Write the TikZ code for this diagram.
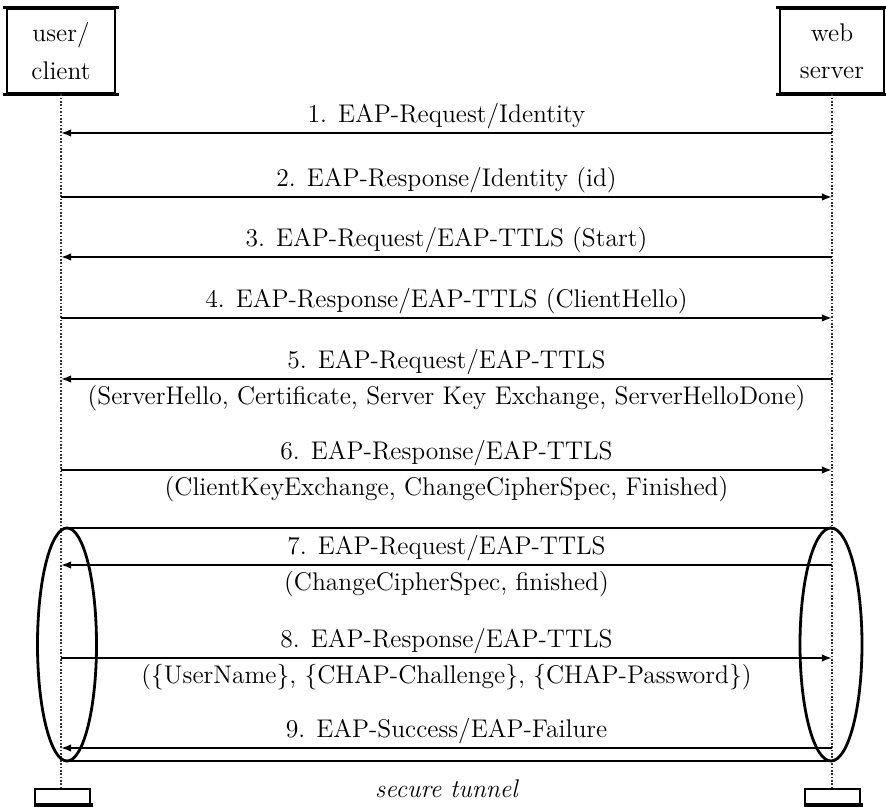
\documentclass[tikz,border=0pt]{standalone}
\usepackage{tikz}
\usetikzlibrary{arrows.meta}

\begin{document}
\begin{tikzpicture}[
        x=0.01569cm, y=-0.01569cm,
        every node/.style={font=\fontsize{11.4}{13.6}\selectfont},
        actor/.style={rectangle, draw, line width=1.2pt, minimum width=#1, minimum height=37.5pt, align=center, inner sep=0pt},
        endbox/.style={rectangle, draw, line width=1pt, minimum width=24.5pt, minimum height=6.7pt, inner sep=0pt},
        lifeline/.style={line width=1.1pt, black!80, dash pattern=on 0.75pt off 0.75pt},
        msg/.style={-{Latex[length=4.5pt,width=3.4pt]}, line width=0.85pt},
        upper/.style={above, inner sep=1.2pt},
        lower/.style={below, inner sep=2.4pt},
        tunnel/.style={line width=1.25pt}
    ]
    \useasboundingbox (0,0) rectangle (886,807);
%
    % actors
    \node[actor=48.2pt] (client) at (61,51) {user/\\[3pt]client};
    \node[actor=46.4pt] (server) at (832,51) {web\\[3pt]server};
    \draw[line width=1.6pt] ([xshift=-1pt]client.north west) -- ([xshift=1pt]client.north east);
    \draw[line width=1.6pt] ([xshift=-1pt]client.south west) -- ([xshift=1pt]client.south east);
    \draw[line width=1.6pt] ([xshift=-1pt]server.north west) -- ([xshift=1pt]server.north east);
    \draw[line width=1.6pt] ([xshift=-1pt]server.south west) -- ([xshift=1pt]server.south east);
%
    \node[endbox] (clientend) at (62.5,796.5) {};
    \node[endbox] (serverend) at (832.5,796.5) {};
    \draw[line width=1.6pt] (clientend.south west) -- ([xshift=1pt]clientend.south east);
    \draw[line width=1.6pt] (serverend.south west) -- ([xshift=1pt]serverend.south east);
%
    \draw[lifeline] (client.south) -- (client.south |- clientend.north);
    \draw[lifeline] (server.south) -- (server.south |- serverend.north);
%
    % points on the lifelines
    \coordinate (c1) at (61,133);  \coordinate (s1) at (832,133);
    \coordinate (c2) at (61,197);  \coordinate (s2) at (832,197);
    \coordinate (c3) at (61,257);  \coordinate (s3) at (832,257);
    \coordinate (c4) at (61,318);  \coordinate (s4) at (832,318);
    \coordinate (c5) at (61,379);  \coordinate (s5) at (832,379);
    \coordinate (c6) at (61,470);  \coordinate (s6) at (832,470);
    \coordinate (c7) at (61,565);  \coordinate (s7) at (832,565);
    \coordinate (c8) at (61,658);  \coordinate (s8) at (832,658);
    \coordinate (c9) at (61,748);  \coordinate (s9) at (832,748);
%
    % secure tunnel
    \draw[tunnel] (66,528) -- (831,528);
    \draw[tunnel] (66,761) -- (831,761);
    \draw[tunnel] (67,644.5) ellipse [x radius=29.5, y radius=116.5];
    \draw[tunnel] (831,644.5) ellipse [x radius=31, y radius=116.5];
    \node[font=\fontsize{11.4}{13.6}\selectfont\itshape] (tunnellabel) at (446.5,789) {secure tunnel};
%
    % messages
    \draw[msg] (s1) -- node[upper] (m1) {1. EAP-Request/Identity} (c1);
    \draw[msg] (c2) -- node[upper] (m2) {2. EAP-Response/Identity (id)} (s2);
    \draw[msg] (s3) -- node[upper] (m3) {3. EAP-Request/EAP-TTLS (Start)} (c3);
    \draw[msg] (c4) -- node[upper] (m4) {4. EAP-Response/EAP-TTLS (ClientHello)} (s4);
    \draw[msg] (s5) -- node[upper] (m5) {5. EAP-Request/EAP-TTLS}
        node[lower] (m5b) {(ServerHello, Certificate, Server Key Exchange, ServerHelloDone)} (c5);
    \draw[msg] (c6) -- node[upper] (m6) {6. EAP-Response/EAP-TTLS}
        node[lower] (m6b) {(ClientKeyExchange, ChangeCipherSpec, Finished)} (s6);
    \draw[msg] (s7) -- node[upper] (m7) {7. EAP-Request/EAP-TTLS}
        node[lower] (m7b) {(ChangeCipherSpec, finished)} (c7);
    \draw[msg] (c8) -- node[upper] (m8) {8. EAP-Response/EAP-TTLS}
        node[lower] (m8b) {(\{UserName\}, \{CHAP-Challenge\}, \{CHAP-Password\})} (s8);
    \draw[msg] (s9) -- node[upper] (m9) {9. EAP-Success/EAP-Failure} (c9);
%
\end{tikzpicture}
\end{document}
